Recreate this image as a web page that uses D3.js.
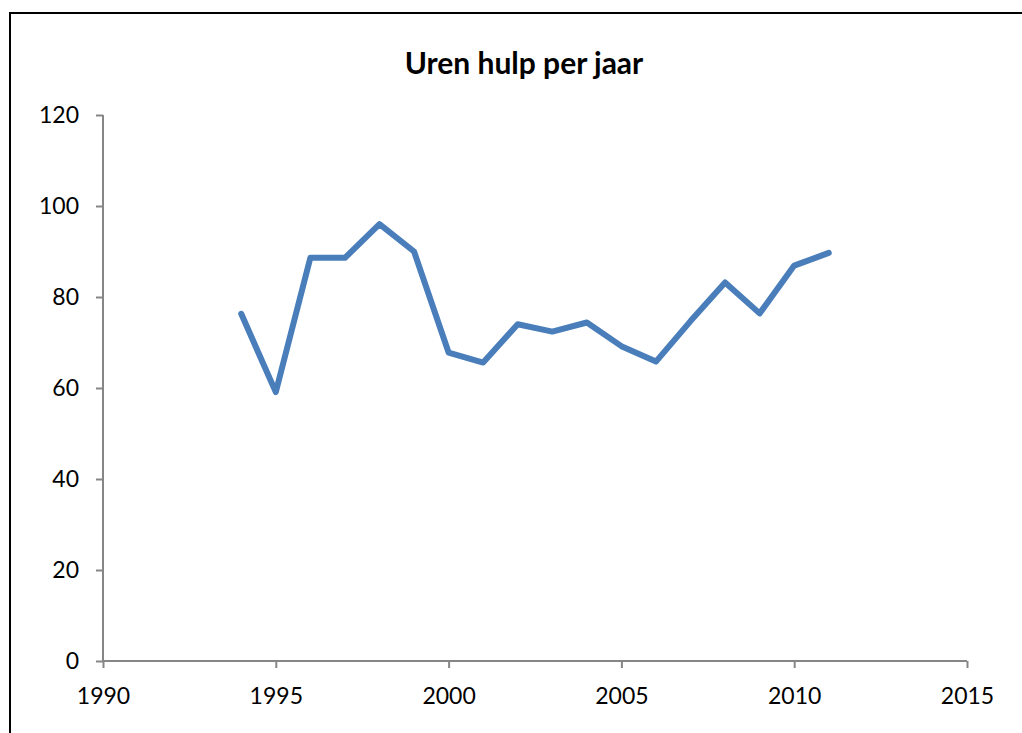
<!DOCTYPE html>
<html>
<head>
<meta charset="utf-8">
<script src="https://cdn.jsdelivr.net/npm/d3@7"></script>
<style>
  body { margin: 0; background: #fff; }
  svg { display: block; font-family: Lato, "Open Sans", sans-serif; }
</style>
</head>
<body>
<svg width="1022" height="733"></svg>
<script>
const years = [1994, 1995, 1996, 1997, 1998, 1999, 2000, 2001, 2002, 2003, 2004, 2005, 2006, 2007, 2008, 2009, 2010, 2011];
const hours = [76.3, 59.1, 88.6, 88.6, 96.0, 90.0, 67.8, 65.6, 74.0, 72.4, 74.4, 69.2, 65.8, 74.7, 83.2, 76.4, 86.9, 89.7];
const xTicks = [1990, 1995, 2000, 2005, 2010, 2015];
const yTicks = [0, 20, 40, 60, 80, 100, 120];
const title = 'Uren hulp per jaar';

const svg = d3.select('svg');

// chart border (right and bottom edges run off the picture)
svg.append('rect')
   .attr('x', 10).attr('y', 13)
   .attr('width', 1030).attr('height', 740)
   .attr('fill', 'none')
   .attr('stroke', '#000')
   .attr('stroke-width', 2);

const x = d3.scaleLinear().domain([1990, 2015]).range([103, 967]);
const y = d3.scaleLinear().domain([0, 120]).range([661, 115]);

svg.append('text')
   .attr('x', 524).attr('y', 74)
   .attr('text-anchor', 'middle')
   .attr('font-size', 30)
   .attr('font-weight', 'bold')
   .text(title);

const yAxis = svg.append('g')
   .attr('transform', 'translate(103,0)')
   .call(d3.axisLeft(y).tickValues(yTicks).tickSize(7).tickPadding(17));

const xAxis = svg.append('g')
   .attr('transform', 'translate(0,661)')
   .call(d3.axisBottom(x).tickValues(xTicks).tickFormat(d3.format('d')).tickSize(7).tickPadding(20));

[yAxis, xAxis].forEach(g => {
  g.selectAll('line').attr('stroke', '#868686').attr('stroke-width', 2);
  g.select('.domain').remove();
  g.selectAll('text').attr('font-size', 23).attr('fill', '#000').attr('font-family', 'Lato, "Open Sans", sans-serif');
});
// plain axis lines without end caps
svg.append('line').attr('x1', 103).attr('x2', 103).attr('y1', y(120)).attr('y2', y(0))
   .attr('stroke', '#868686').attr('stroke-width', 2);
svg.append('line').attr('x1', x(1990)).attr('x2', x(2015)).attr('y1', y(0)).attr('y2', y(0))
   .attr('stroke', '#868686').attr('stroke-width', 2);

const line = d3.line()
   .x((d, i) => x(years[i]))
   .y(d => y(d));

svg.append('path')
   .datum(hours)
   .attr('d', line)
   .attr('fill', 'none')
   .attr('stroke', '#4a7ebb')
   .attr('stroke-width', 6)
   .attr('stroke-linejoin', 'round')
   .attr('stroke-linecap', 'round');
</script>
</body>
</html>
